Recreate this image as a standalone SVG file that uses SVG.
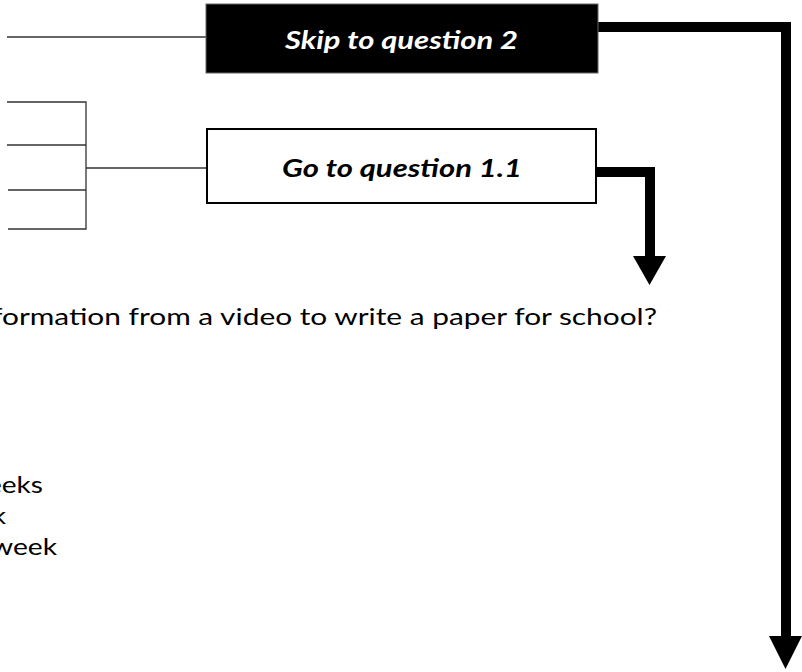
<svg xmlns="http://www.w3.org/2000/svg" width="802" height="672" viewBox="0 0 802 672">
<style>
.thin{stroke:#333;stroke-width:1.3;fill:none}
.thick{stroke:#000;stroke-width:10;fill:none}
.lbl{font-family:Lato,"Open Sans",sans-serif;font-weight:bold;font-style:italic;font-size:25px}
.body{font-family:Lato,"Open Sans",sans-serif;font-size:23px;fill:#000}
</style>
<rect width="802" height="672" fill="#fff"/>
<g id="connectors">
<line class="thin" x1="7" y1="37" x2="206" y2="37"/>
<path class="thin" d="M7 102H86V229H8M7 145H86M8 190H86M86 168H206"/>
<path class="thick" d="M597 27H786V640"/>
<polygon points="769,636 802,636 785.5,669" fill="#000"/>
<path class="thick" d="M596 172H650V258"/>
<polygon points="633,256 666,256 649.5,285" fill="#000"/>
</g>
<g id="skip">
<rect x="206" y="4" width="392" height="69" fill="#000" stroke="#666" stroke-width="1"/>
<text class="lbl" x="285" y="49" fill="#fff" textLength="233" lengthAdjust="spacingAndGlyphs">Skip to question 2</text>
</g>
<g id="goto">
<rect x="207" y="129" width="389" height="74" fill="#fff" stroke="#000" stroke-width="2"/>
<text class="lbl" x="282" y="177" fill="#000" textLength="240" lengthAdjust="spacingAndGlyphs">Go to question 1.1</text>
</g>
<g id="texts">
<text class="body" x="-8" y="325" textLength="665" lengthAdjust="spacingAndGlyphs">formation from a video to write a paper for school?</text>
<text class="body" x="-13" y="493" textLength="56" lengthAdjust="spacingAndGlyphs">eeks</text>
<text class="body" x="-8" y="524" textLength="14" lengthAdjust="spacingAndGlyphs">k</text>
<text class="body" x="-9" y="555" textLength="66" lengthAdjust="spacingAndGlyphs">week</text>
</g>
</svg>
